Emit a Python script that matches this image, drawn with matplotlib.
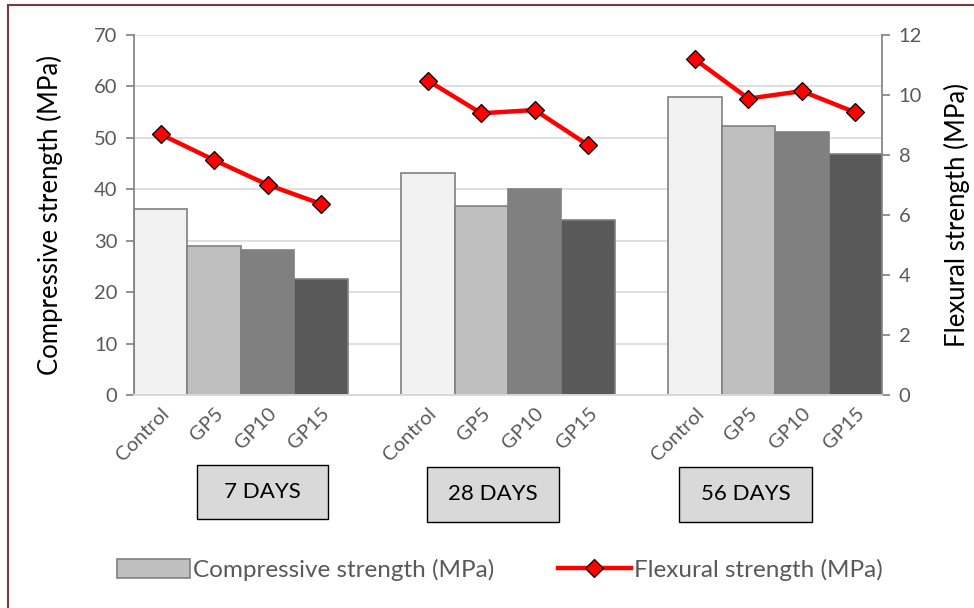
import numpy as np
import matplotlib.pyplot as plt
from matplotlib.patches import Rectangle
from matplotlib.lines import Line2D
from matplotlib.patches import Patch

plt.rcParams['font.family'] = ['Lato', 'DejaVu Sans']

# data
groups = ['7 DAYS', '28 DAYS', '56 DAYS']
mixes = ['Control', 'GP5', 'GP10', 'GP15']
compressive_7 = [36.2, 29.0, 28.1, 22.6]
compressive_28 = [43.2, 36.8, 40.0, 34.0]
compressive_56 = [57.9, 52.3, 51.1, 46.9]
flexural_7 = [8.69, 7.83, 7.01, 6.37]
flexural_28 = [10.48, 9.39, 9.50, 8.33]
flexural_56 = [11.19, 9.88, 10.13, 9.42]

compressive = [compressive_7, compressive_28, compressive_56]
flexural = [flexural_7, flexural_28, flexural_56]
bar_colors = ['#f2f2f2', '#bfbfbf', '#808080', '#595959']
tick_gray = '#595959'

fig = plt.figure(figsize=(9.74, 6.08), dpi=100)
ax = fig.add_axes([134 / 974, 1 - 395 / 608, 748 / 974, 360 / 608])
ax2 = ax.twinx()

xticks, xlabels = [], []
for g in range(len(groups)):
    xs = np.arange(4) + g * 5
    ax.bar(xs, compressive[g], width=1.0, color=bar_colors,
           edgecolor='#808080', linewidth=1.2, zorder=2)
    ax2.plot(xs, flexural[g], color='red', lw=3.2, marker='D', ms=9,
             mfc='red', mec='black', mew=0.9, zorder=3)
    xticks += list(xs)
    xlabels += mixes

ax.set_xlim(-0.5, 13.5)
ax.set_ylim(0, 70)
ax.set_yticks(range(0, 71, 10))
ax2.set_ylim(0, 12)
ax2.set_yticks(range(0, 13, 2))
ax.grid(axis='y', color='#d9d9d9', lw=1.2, zorder=0)
ax.set_axisbelow(True)

ax.set_xticks(xticks)
ax.set_xticklabels(xlabels, rotation=45, ha='right', va='top',
                   rotation_mode='anchor', color=tick_gray, fontsize=14.5)
ax.tick_params(axis='x', length=0, pad=7)
for a in (ax, ax2):
    a.tick_params(axis='y', colors='#7f7f7f', labelcolor=tick_gray,
                  labelsize=14.5, length=6, width=1.2, direction='out', pad=6)
    a.spines['top'].set_visible(False)
    a.spines['bottom'].set_color('#d9d9d9')
    a.spines['bottom'].set_linewidth(1.2)
ax.spines['left'].set_color('#7f7f7f')
ax.spines['left'].set_linewidth(1.2)
ax.spines['right'].set_visible(False)
ax2.spines['left'].set_visible(False)
ax2.spines['right'].set_color('#7f7f7f')
ax2.spines['right'].set_linewidth(1.2)

ax.set_ylabel('Compressive strength (MPa)', fontsize=18.5, color='black', labelpad=22)
ax2.set_ylabel('Flexural strength (MPa)', fontsize=18.5, color='black', labelpad=16)

# group boxes under the category labels
boxes = [(197, 465, 131, 54), (427, 467, 132, 55), (679, 467, 133, 55)]
for (bx, by, bw, bh), name in zip(boxes, groups):
    fig.patches.append(Rectangle((bx / 974, 1 - (by + bh) / 608), bw / 974, bh / 608,
                                 transform=fig.transFigure, facecolor='#d9d9d9',
                                 edgecolor='black', lw=1.0))
    fig.text((bx + bw / 2) / 974, 1 - (by + bh / 2) / 608, name, ha='center',
             va='center', fontsize=16, color='black')

handles = [Patch(facecolor='#bfbfbf', edgecolor='#808080', lw=1.2),
           Line2D([0], [0], color='red', lw=3.2, marker='D', ms=9, mfc='red',
                  mec='black', mew=0.9)]
fig.legend(handles, ['Compressive strength (MPa)', 'Flexural strength (MPa)'],
           loc='center', bbox_to_anchor=(500 / 974, 1 - 570 / 608), ncol=2,
           frameon=False, fontsize=17.5, labelcolor=tick_gray, handlelength=3.0,
           handleheight=0.8, handletextpad=0.15, columnspacing=2.6)

# outer frame
fig.patches.append(Rectangle((8 / 974, -0.05), 1.1, 1 - 5 / 608 + 0.05,
                             transform=fig.transFigure, fill=False,
                             edgecolor='#7b3b3b', lw=1.5))

fig.savefig('out.png', dpi=100)
